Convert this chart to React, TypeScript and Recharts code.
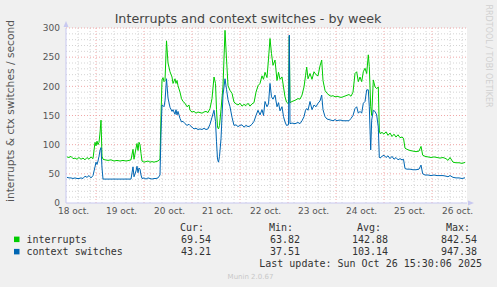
import { LineChart, Line, XAxis, YAxis, ReferenceLine, CartesianGrid } from "recharts";

// hours counted from 18 oct 00:00
const hours = [
  9.5, 10.5, 11.5, 12.5, 13.5, 14.5, 15.5, 16.5, 17.5, 18.5, 19.5, 20.5, 21.5, 22.5, 23.5, 24, 24.5, 25, 25.5, 26,
  26.5, 27, 27.5, 28.5, 30, 31.5, 33, 34.5, 36, 37.5, 39, 40.5, 41.5, 42.5, 43, 44, 44.5, 45, 45.5, 46,
  46.5, 47, 48, 49, 50, 51, 52, 53, 54, 55, 56, 56.5, 57, 57.5, 58, 58.5, 59.25, 60, 61, 62,
  62.5, 63.5, 64, 64.5, 65, 66, 66.75, 67.5, 68.5, 69.5, 70.5, 71, 72, 73, 74, 75, 76, 77, 78, 79,
  80, 81, 82, 83, 83.75, 84.25, 84.75, 85.25, 85.75, 86.5, 87.5, 88.5, 89.25, 90, 91, 92, 93, 94, 95, 96,
  97, 98, 99, 100, 101, 102, 103, 104, 105, 106, 107, 107.75, 108.5, 109.5, 110.25, 111, 111.75, 112.5, 113.5, 114.5,
  115.25, 116, 117, 117.75, 118.5, 119.25, 120.25, 120.65, 121, 122, 123.5, 125, 126, 127, 128, 128.75, 129.35, 130, 131, 132,
  133, 134, 135, 136, 136.85, 137.5, 138.5, 139.5, 140.5, 141.5, 142.5, 143.5, 144.5, 145.5, 146.5, 147.5, 149, 150.5, 151.5, 152.5,
  153.5, 154.35, 155.15, 156, 156.85, 157.65, 158.5, 159.35, 160.15, 160.65, 161.35, 161.85, 162.65, 163.5, 164.35, 165.15, 165.65, 166, 167, 168,
  169, 170, 171, 172, 173, 174, 175, 176, 177, 177.75, 178.5, 179.5, 181, 182.5, 184, 185.5, 186.5, 187.35, 188.5, 190,
  191.5, 193, 194.5, 196, 197.5, 199, 200, 201, 202.5, 204, 205.5, 207, 208.5,
];

const interrupts = [
  79, 78, 80, 76, 77, 75, 78, 75, 77, 74, 78, 75, 79, 76, 104, 98, 106, 100, 104, 120,
  142, 80, 75, 74, 73, 74, 72, 73, 72, 73, 72, 73, 74, 92, 75, 94, 102, 90, 104, 100,
  85, 72, 70, 71, 72, 70, 71, 70, 71, 72, 75, 150, 211, 215, 208, 210, 278, 240, 225, 216,
  205, 213, 205, 210, 201, 190, 179, 174, 171, 165, 168, 159, 156, 157, 154, 156, 155, 154, 156, 157,
  155, 162, 179, 216, 205, 160, 130, 127, 133, 160, 200, 296, 247, 201, 193, 188, 173, 170, 168, 171,
  166, 169, 167, 171, 166, 170, 172, 190, 201, 205, 218, 212, 224, 215, 247, 282, 256, 236, 245, 210,
  224, 212, 216, 199, 182, 173, 170, 286, 172, 174, 176, 179, 178, 185, 199, 218, 233, 213, 222, 212,
  225, 220, 218, 235, 245, 210, 193, 188, 185, 183, 184, 182, 183, 182, 181, 182, 184, 186, 183, 190,
  222, 225, 208, 216, 208, 225, 231, 222, 254, 234, 165, 150, 211, 199, 196, 199, 125, 119, 121, 118,
  122, 116, 120, 114, 118, 113, 117, 112, 113, 111, 94, 92, 90, 89, 88, 89, 97, 82, 80, 79,
  78, 79, 78, 77, 78, 76, 73, 78, 70, 69, 69, 68, 69.54,
];

const ctxSwitches = [
  44, 43, 43, 42, 43, 42, 42, 43, 42, 46, 44, 47, 43, 47, 62, 70, 66, 72, 80, 90,
  95, 60, 41, 41, 41, 41, 41, 41, 41, 41, 41, 41, 41, 62, 45, 55, 63, 52, 60, 58,
  48, 42, 43, 41, 43, 42, 41, 42, 42, 43, 48, 120, 168, 167, 165, 175, 213, 180, 164, 157,
  160, 152, 160, 151, 157, 145, 139, 140, 136, 133, 135, 133, 130, 127, 128, 126, 127, 126, 128, 126,
  127, 135, 147, 159, 140, 105, 75, 70, 80, 110, 185, 213, 195, 177, 165, 147, 133, 134, 131, 133,
  134, 130, 133, 131, 132, 135, 140, 150, 159, 151, 160, 150, 174, 165, 170, 205, 182, 178, 185, 165,
  172, 158, 165, 148, 139, 133, 134, 288, 136, 137, 136, 138, 136, 141, 148, 159, 162, 159, 174, 160,
  168, 165, 171, 175, 185, 160, 148, 144, 143, 142, 141, 143, 141, 142, 142, 141, 141, 141, 145, 150,
  162, 165, 154, 157, 154, 171, 174, 194, 194, 165, 91, 142, 159, 157, 151, 130, 79, 77, 80, 82,
  78, 81, 76, 80, 75, 78, 74, 76, 74, 75, 59, 58, 58, 57, 57, 58, 65, 50, 48, 48,
  47, 48, 47, 47, 47, 46, 45, 47, 44, 43, 43, 42, 43.21,
];

const dayLabels = ["18 oct.", "19 oct.", "20 oct.", "21 oct.", "22 oct.", "23 oct.", "24 oct.", "25 oct.", "26 oct."];
const labelHours = dayLabels.map((_, i) => 12.75 + 24 * i);
const midnights = [24, 48, 72, 96, 120, 144, 168, 192];
const minorHours = [15, 21, 27, 33, 39, 45, 51, 57, 63, 69, 75, 81, 87, 93, 99, 105, 111, 117, 123, 129, 135, 141, 147, 153, 159, 165, 171, 177, 183, 189, 195, 201, 207];
const majorValues = [50, 100, 150, 200, 250, 300];
const minorValues = Array.from({ length: 29 }, (_, i) => (i + 1) * 10).filter((v) => v % 50 !== 0);

const legendRows = [
  { name: "interrupts", color: "#00CC00", cur: "69.54", min: "63.82", avg: "142.88", max: "842.54" },
  { name: "context switches", color: "#0066B3", cur: "43.21", min: "37.51", avg: "103.14", max: "947.38" },
];

const rows = hours.map((h, i) => ({ h, interrupts: interrupts[i], ctx: ctxSwitches[i] }));

const mono = "'DejaVu Sans Mono', monospace";
const sans = "'DejaVu Sans', sans-serif";
const axisCol = "#c8c8f0";

export default function App() {
  return (
    <div style={{ position: "absolute", left: 0, top: 0, width: 497, height: 287, background: "#f0f0f0" }}>
      <LineChart width={497} height={287} data={rows} margin={{ top: 28, right: 30, left: 0, bottom: 64 }}>
        <CartesianGrid horizontal={false} vertical={false} fill="#ffffff" />
        <XAxis
          dataKey="h"
          type="number"
          domain={[9, 209.5]}
          ticks={labelHours}
          tickFormatter={(v) => dayLabels[Math.round((v - 12.75) / 24)]}
          tick={{ fill: "#555", fontSize: 9, fontFamily: sans }}
          tickLine={false}
          tickSize={0}
          tickMargin={5}
          axisLine={{ stroke: axisCol }}
          height={20}
          interval={0}
        />
        <YAxis
          domain={[0, 300]}
          ticks={[0, 50, 100, 150, 200, 250, 300]}
          tick={{ fill: "#555", fontSize: 9, fontFamily: sans }}
          tickLine={false}
          tickSize={0}
          tickMargin={6}
          axisLine={{ stroke: axisCol }}
          width={66}
          interval={0}
        />
        {minorValues.map((v) => (
          <ReferenceLine key={"my" + v} y={v} stroke="#d4d4d4" strokeDasharray="1 2" />
        ))}
        {minorHours.map((h) => (
          <ReferenceLine key={"mx" + h} x={h} stroke="#d4d4d4" strokeDasharray="1 2" />
        ))}
        {majorValues.map((v) => (
          <ReferenceLine key={"My" + v} y={v} stroke="#f0a8a8" strokeDasharray="1 2" />
        ))}
        {midnights.map((h) => (
          <ReferenceLine key={"Mx" + h} x={h} stroke="#f0a8a8" strokeDasharray="1 2" />
        ))}
        <Line type="linear" dataKey="interrupts" stroke="#00CC00" strokeWidth={1} dot={false} isAnimationActive={false} />
        <Line type="linear" dataKey="ctx" stroke="#0066B3" strokeWidth={1} dot={false} isAnimationActive={false} />
      </LineChart>
      <svg width={497} height={287} style={{ position: "absolute", left: 0, top: 0, pointerEvents: "none" }}>
        <polygon points="63.5,27 68.5,27 66,21" fill={axisCol} />
        <polygon points="468,200.5 468,205.5 474,203" fill={axisCol} />
        <text x={248} y={23.3} textAnchor="middle" fontFamily={sans} fontSize={12.7} fill="#444">
          Interrupts and context switches - by week
        </text>
        <text
          x={14}
          y={111}
          textAnchor="middle"
          fontFamily={sans}
          fontSize={10.7}
          fill="#555"
          transform="rotate(-90 14 111)"
        >
          interrupts &amp; ctx switches / second
        </text>
        <text
          x={486}
          y={56}
          textAnchor="middle"
          fontFamily={sans}
          fontSize={8}
          fill="#d0d0d0"
          transform="rotate(90 486 56)"
        >
          RRDTOOL / TOBI OETIKER
        </text>
        <g fontFamily={mono} fontSize={10} fill="#333">
          <text x={204} y={231} textAnchor="end">Cur:</text>
          <text x={293} y={231} textAnchor="end">Min:</text>
          <text x={381} y={231} textAnchor="end">Avg:</text>
          <text x={470} y={231} textAnchor="end">Max:</text>
          {legendRows.map((r, i) => {
            const y = 242.6 + i * 12.3;
            return (
              <g key={r.name}>
                <rect x={14} y={y - 6} width={5.5} height={5.5} fill={r.color} />
                <text x={26.5} y={y}>{r.name}</text>
                <text x={211} y={y} textAnchor="end">{r.cur}</text>
                <text x={300} y={y} textAnchor="end">{r.min}</text>
                <text x={388} y={y} textAnchor="end">{r.avg}</text>
                <text x={477} y={y} textAnchor="end">{r.max}</text>
              </g>
            );
          })}
          <text x={482} y={267} textAnchor="end">Last update: Sun Oct 26 15:30:06 2025</text>
        </g>
        <text x={250.5} y={278.5} textAnchor="middle" fontFamily={sans} fontSize={7} fill="#c8c8c8">
          Munin 2.0.67
        </text>
      </svg>
    </div>
  );
}
